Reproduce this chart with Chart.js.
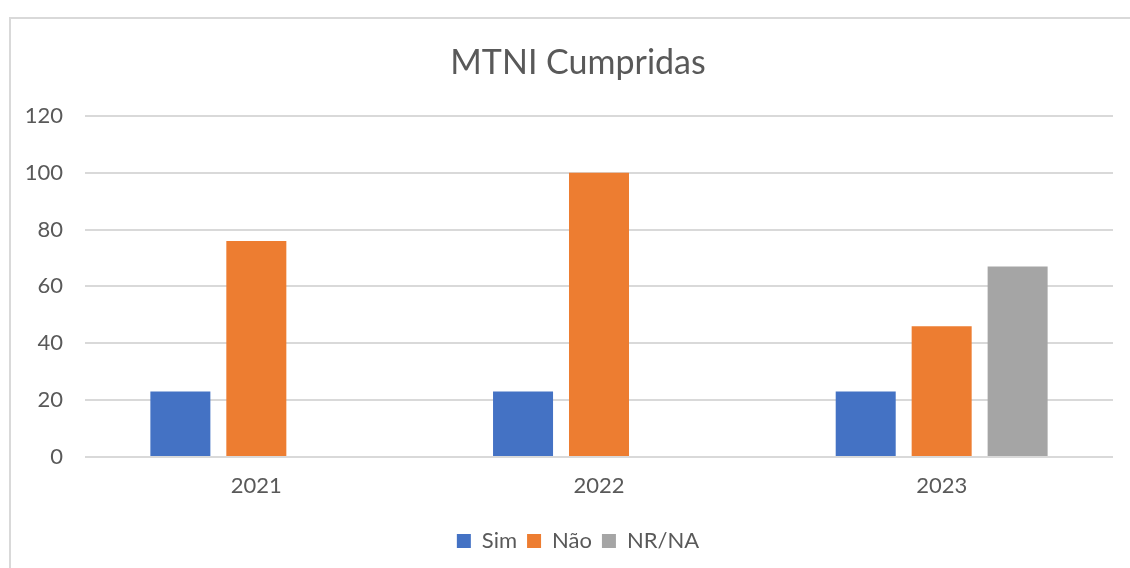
<!DOCTYPE html>
<html>
<head>
<meta charset="utf-8">
<script src="https://cdn.jsdelivr.net/npm/chart.js@4"></script>
<style>
  html, body { margin: 0; padding: 0; background: #fff; }
  #frame { position: absolute; left: 9px; top: 17px; width: 1130px; height: 560px;
           border: 2px solid #d9d9d9; box-sizing: border-box; }
  #wrap { position: absolute; left: 0; top: 0; width: 1130px; height: 568px; }
</style>
</head>
<body>
<div id="frame"></div>
<div id="wrap"><canvas id="myChart" width="1130" height="568"></canvas></div>
<script>
const years = ["2021", "2022", "2023"];
const simValues = [23, 23, 23];
const naoValues = [76, 100, 46];
const nrnaValues = [0, 0, 67];

const textColor = "#595959";
const gridColor = "#d9d9d9";
const fontFamily = "Lato, 'Open Sans', sans-serif";

const ctx = document.getElementById("myChart").getContext("2d");

const data = {
  labels: years,
  datasets: [
    { label: "Sim", data: simValues, backgroundColor: "#4472C4" },
    { label: "Não", data: naoValues, backgroundColor: "#ED7D31" },
    { label: "NR/NA", data: nrnaValues, backgroundColor: "#A5A5A5" },
  ],
};

// the original frame is wider than the picture, so title and legend
// sit a little right of the canvas centre
const frameCentre = {
  id: "frameCentre",
  afterLayout(chart) {
    chart.titleBlock.left += 23;
    chart.legend.left += 23;
  },
};

const config = {
  type: "bar",
  data: data,
  plugins: [frameCentre],
  options: {
    responsive: false,
    animation: false,
    datasets: {
      bar: { barPercentage: 0.79, categoryPercentage: 0.665 },
    },
    layout: {
      padding: { left: 20, right: 17, top: 0, bottom: 6 },
    },
    plugins: {
      title: {
        display: true,
        text: "MTNI Cumpridas",
        color: textColor,
        font: { family: fontFamily, size: 34, weight: "normal" },
        padding: { top: 43, bottom: 32 },
      },
      legend: {
        position: "bottom",
        labels: {
          color: textColor,
          font: { family: fontFamily, size: 22 },
          boxWidth: 14,
          boxHeight: 14,
          padding: 10,
        },
      },
      tooltip: { enabled: false },
    },
    scales: {
      x: {
        grid: { display: false, drawTicks: false },
        border: { display: false },
        ticks: {
          color: textColor,
          font: { family: fontFamily, size: 22 },
          padding: 16,
        },
        afterFit(scale) { scale.height = 63; },
      },
      y: {
        min: 0,
        max: 120,
        grid: { color: gridColor, lineWidth: 2, drawTicks: false },
        border: { display: false },
        ticks: {
          stepSize: 20,
          color: textColor,
          font: { family: fontFamily, size: 22 },
          padding: 22,
        },
        afterFit(scale) { scale.width = 65; },
      },
    },
  },
};

new Chart(ctx, config);
</script>
</body>
</html>
